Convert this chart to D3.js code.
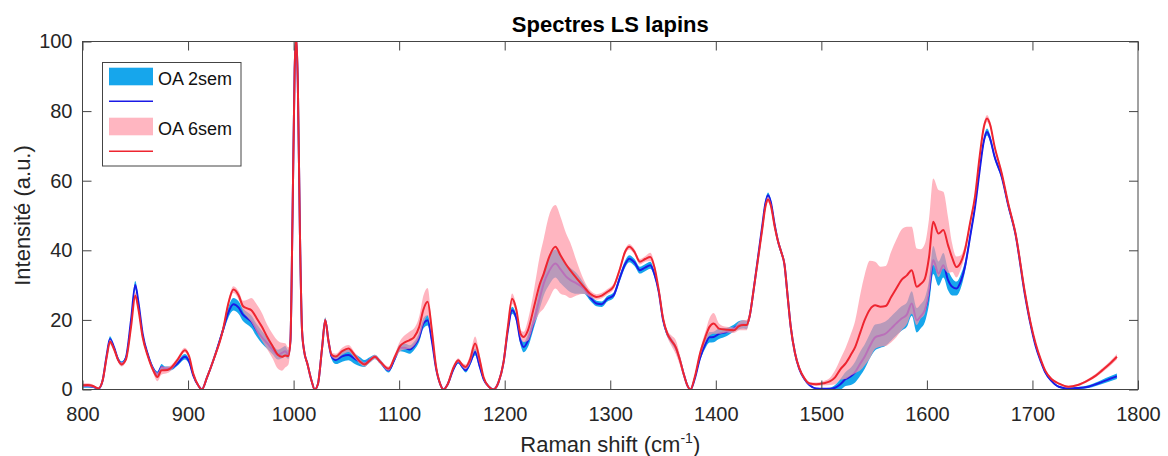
<!DOCTYPE html>
<html>
<head>
<meta charset="utf-8">
<script src="https://cdn.jsdelivr.net/npm/d3@7"></script>
<style>
  html, body { margin: 0; padding: 0; background: #fff; }
  svg { display: block; font-family: "Liberation Sans", Arial, sans-serif; }
</style>
</head>
<body>
<svg id="chart" width="1168" height="456"></svg>
<script>
// ---------------- DATA ----------------
const title = "Spectres LS lapins";
const seriesNames = ["OA 2sem", "OA 6sem"];
const xTicks = [800, 900, 1000, 1100, 1200, 1300, 1400, 1500, 1600, 1700, 1800];
const yTicks = [0, 20, 40, 60, 80, 100];

const wavenumber = [
800,805,810,815,819,823,826,830,834,837,
841,846,850,853,857,862,867,871,875,878,
883,890,897,901,905,910,913,918,924,933,
938,943,948,952,956,960,965,970,975,980,
985,989,992,995,997,999,1001,1002.5,1004,1006,
1008,1010,1013,1017,1020,1023,1027,1030,1033,1036,
1040,1046,1052,1058,1063,1067,1072,1077,1082,1090,
1096,1101,1105,1110,1114,1119,1123,1127,1131,1135,
1139,1142,1146,1151,1156,1160,1163,1167,1172,1176,
1180,1185,1189,1194,1199,1203,1207,1211,1215,1218,
1222,1228,1233,1237,1242,1248,1253,1258,1262,1268,
1275,1281,1287,1292,1297,1303,1309,1314,1318,1323,
1328,1333,1338,1342,1346,1350,1354,1358,1362,1366,
1370,1373,1376,1380,1385,1390,1394,1398,1403,1410,
1417,1422,1426,1429,1432,1436,1440,1444,1447,1449.5,
1452,1456,1459,1462,1465,1468,1471,1475,1479,1484,
1489,1495,1502,1508,1513,1518,1523,1528,1532,1537,
1541,1546,1551,1556,1561,1566,1571,1576,1581,1585.6,
1590.4,1594,1598,1602,1606,1611,1615.6,1620,1624,1628,
1632,1636,1641,1645.6,1650,1654,1657,1660,1664,1671,
1677,1684,1693,1698,1703,1708,1712,1718,1725,1734,
1743,1753,1760,1766,1773,1780];

// OA 2sem : mean spectrum
const meanOA2 = [
1.0,1.0,0.8,0.2,2.5,10,14.5,12,8.5,7.5,
9,20,30,25,16,10,6,4.5,6.5,6,
6,7.5,9.4,8,4,1,0,3.5,8.4,17,
22,24.5,23.5,21.5,20.5,19.5,17,15,13.3,11.5,
10,10.5,11,10,14,50,92,101,88,45,
17,11,7.5,2.5,0,1.5,12,20,14,9.5,
8.5,9.5,9.9,8.8,8,7.5,8.5,9.4,8,5.5,
9,12,12,11.5,12.5,15,19,19.9,14,6,
1.5,0,1.5,5.5,8,6.5,5.5,7.5,10.8,7,
3,0.8,0,2,8,17,22.8,20.5,14,12.2,
14,20,26,30.5,34,36.2,34.5,32.5,31.5,30.5,
29,26.5,24.7,24.5,26,27,32,36,37.6,36.5,
34.3,35,35.7,33,28,20,16,14,12,8.5,
4,1.2,0,3,9,13,15,15.1,16,16.5,
17.6,18.5,18.7,18.5,21,29,38,47,53.5,55.8,
54,47,42.5,39.5,36,27,18,10.5,6,3,
1.2,0.3,0.2,0.2,0.5,1.5,3,3.8,5,7.5,
9.4,12.5,15,15.5,16.1,17.5,19,20.4,21.5,24.7,
19.9,21,22.8,28,37.2,33.3,35.7,31.5,29.5,29,
31,35.2,44,52.5,63,71.5,74,72,67,61,
53,44.5,27,19,12.5,8,5,2.5,0.8,0.3,
0.4,0.8,1.5,2.2,3,3.8];

// OA 2sem : standard deviation (band half-width)
const sdOA2 = [
0.5,0.5,0.4,0.2,0.4,0.6,0.8,0.6,0.6,0.6,
0.6,1.0,1.2,1.0,0.8,0.6,0.6,0.7,0.8,0.6,
0.6,0.7,0.8,0.7,0.5,0.3,0.2,0.4,0.6,1.0,
1.5,1.8,1.8,1.8,1.8,1.8,1.8,1.8,1.6,1.4,
1.4,1.5,1.5,1.2,0.8,1,1,1,1,1,
0.6,0.5,0.5,0.4,0.2,0.3,0.6,0.7,0.6,0.8,
1.2,1.5,1.5,1.5,1.3,1.0,0.8,0.6,0.6,0.6,
0.8,1.0,1.2,1.2,1.2,1.3,1.5,1.5,1.0,0.6,
0.3,0.2,0.3,0.5,0.6,0.6,0.6,0.8,1.0,0.8,
0.5,0.3,0.2,0.3,0.6,1.0,1.0,1.0,1.2,1.5,
1.8,2,3,3.5,4,4,4,3.5,3.5,3,
1.5,1.0,0.8,0.8,0.8,0.8,1,1,1,1,
1,1,1,0.8,0.8,0.8,0.8,0.8,0.8,0.6,
0.5,0.3,0.2,0.4,0.8,1.2,1.5,1.5,1.5,1.2,
1.0,1.2,1.2,1.2,0.8,0.8,0.8,0.8,0.8,0.8,
0.8,0.8,0.8,0.8,0.8,0.8,0.8,0.6,0.5,0.4,
0.3,0.2,0.2,0.3,0.8,1.5,2,2.5,3,3.5,
3.5,3.5,3.7,3.5,3.5,3.5,3.5,3.5,3.5,3.5,
3.5,3.5,3.5,3.5,4,3.5,3.5,3,2.5,2,
2,1.5,1.2,1.0,1.0,1.0,1.0,1.0,0.8,0.8,
0.8,0.8,0.6,0.6,0.5,0.4,0.4,0.3,0.3,0.3,
0.3,0.4,0.5,0.6,0.7,0.8];

// OA 6sem : mean spectrum
const meanOA6 = [
1.2,1.3,1.0,0.3,2.5,9.5,13.7,11.5,8.3,7.2,
8.5,18,27,23,15,9.5,5.5,3.6,5.5,5.5,
6,8.5,11.3,9.5,4.5,1,0,3.5,8.4,17,
24.5,28.7,27,24,23.3,22.8,20.5,18,15.1,12.5,
10,9.4,9.8,9.6,14,50,92,102,88,45,
17,11,7.5,2.5,0,1.5,12,20,14,10,
9.5,11,11.8,9.8,8,7.2,8.3,9.4,8,6,
9.5,12.5,13.5,14.2,15,18,23,25.2,17,6.5,
1.5,0,1.5,6,8.4,7,6.5,8.5,13.2,9,
3.5,0.8,0,2,8,18,26.1,23,16,15.1,
17,24,30,33.3,38,41,38.5,36,34.3,32,
29.5,27.5,26.6,27,28,29.5,34.5,39.5,41,39.5,
36.7,37.5,38.1,35,28.5,20.5,16.1,14,12.2,8.5,
4,1.2,0,3.5,10.3,15,18,19,17.5,17.2,
17,18.2,18.5,18.5,21,29,37.5,46,52.5,54.6,
53,46.5,42.5,39.5,36,27,18,10.5,6.2,3.2,
1.7,1.5,1.8,2.3,3.5,5.8,7.5,10,12.2,16.5,
19.9,23,24.2,23.8,24,26.5,29,31.5,32.8,34.3,
29.5,30.3,31.8,38,48.2,44.8,45.8,41.5,37.8,35.2,
36.5,40,48,55.5,67,75.5,77.9,76,70,62,
53.5,44.8,27.6,19.5,13.2,8.5,5.5,3,1.7,0.8,
1.3,2.7,4,5.5,7.3,9.4];

// OA 6sem : standard deviation (band half-width)
const sdOA6 = [
0.5,0.5,0.4,0.2,0.4,0.6,0.7,0.6,0.6,0.6,
0.6,0.8,1.0,0.8,0.7,0.6,0.8,1.2,1.2,1.0,
0.8,0.7,0.7,0.6,0.5,0.3,0.2,0.4,0.6,0.8,
1.0,1.0,1.2,1.5,2.5,3.5,4,4,3.5,3.5,
4,4,3.5,2.5,1.0,1,1,1,1,1,
0.6,0.5,0.5,0.4,0.2,0.3,0.6,0.7,0.6,0.6,
0.8,1.0,1.0,0.8,0.7,0.6,0.6,0.6,0.6,0.6,
0.8,1.5,2,2.5,2.5,3,4,4,2,0.8,
0.3,0.2,0.3,0.5,0.6,0.6,0.7,1.2,2.0,1.5,
0.6,0.3,0.2,0.3,0.6,1.0,1.5,1.2,1.2,1.5,
3,5,8,10,12,12,11,9,8,5,
2,1.0,0.8,0.8,0.8,0.8,0.8,0.8,0.8,0.8,
0.8,0.8,1.2,1.0,0.8,0.8,1.0,1.5,2,1.5,
0.8,0.3,0.2,0.5,1.0,1.5,2.5,3,1.5,0.8,
0.8,1.2,1.5,1.5,1.0,0.8,0.8,0.8,0.8,0.8,
0.8,0.8,0.8,0.8,0.8,0.8,0.8,0.6,0.5,0.4,
0.4,0.5,0.6,1.0,2,3,4.5,6,7.5,11,
13,14,12.5,11.5,11.5,13,14,14.5,14,12.5,
11,10,10,11,12.4,12.5,11,8,4,3,
2,1.5,1.0,1.0,1.0,1.0,1.0,1.0,0.8,0.8,
0.8,0.8,0.6,0.6,0.5,0.4,0.4,0.3,0.3,0.3,
0.3,0.4,0.5,0.6,0.7,0.8];

// ---------------- STYLE ----------------
const blueFill = "#16a6ec", blueLine = "#1a1ae6";
const pinkFill = "#ff96a5", pinkFillOpacity = 0.7, pinkLegend = "#ffb6c1";
const redLine = "#ee2530";
const axisColor = "#444", textColor = "#262626";

// ---------------- CHART ----------------
const svg = d3.select("#chart");
const x = d3.scaleLinear().domain([800, 1800]).range([82.5, 1138]);
const y = d3.scaleLinear().domain([0, 100]).range([389.5, 41.5]);

const defs = svg.append("defs");
defs.append("clipPath").attr("id", "plotClip")
  .append("rect")
  .attr("x", x(800)).attr("y", y(100))
  .attr("width", x(1800) - x(800)).attr("height", y(0) - y(100));

const idx = d3.range(wavenumber.length);
const curve = d3.curveMonotoneX;

function band(mean, sd) {
  return d3.area().curve(curve)
    .x(i => x(wavenumber[i]))
    .y0(i => y(Math.max(mean[i] - sd[i], 0)))
    .y1(i => y(mean[i] + sd[i]));
}
function line(mean) {
  return d3.line().curve(curve)
    .x(i => x(wavenumber[i]))
    .y(i => y(mean[i]));
}

const plot = svg.append("g").attr("clip-path", "url(#plotClip)");
plot.append("path").datum(idx).attr("d", band(meanOA2, sdOA2)).attr("fill", blueFill);
plot.append("path").datum(idx).attr("d", line(meanOA2)).attr("fill", "none")
  .attr("stroke", blueLine).attr("stroke-width", 2);
plot.append("path").datum(idx).attr("d", band(meanOA6, sdOA6)).attr("fill", pinkFill)
  .attr("fill-opacity", pinkFillOpacity);
plot.append("path").datum(idx).attr("d", line(meanOA6)).attr("fill", "none")
  .attr("stroke", redLine).attr("stroke-width", 2);

// Axes (MATLAB style, ticks inward on all four sides)
function styleAxis(g) {
  g.select(".domain").remove();
  g.selectAll(".tick line").attr("stroke", axisColor).attr("stroke-width", 1);
  g.selectAll(".tick text").attr("fill", textColor).style("font-size", "20px")
    .style("font-family", "'Liberation Sans', Arial, sans-serif");
}
svg.append("g").attr("transform", `translate(0,${y(0)})`)
  .call(d3.axisBottom(x).tickValues(xTicks).tickSize(-9).tickPadding(17).tickFormat(d3.format("d")))
  .call(styleAxis);
svg.append("g").attr("transform", `translate(0,${y(100)})`)
  .call(d3.axisTop(x).tickValues(xTicks).tickSize(-9).tickFormat(""))
  .call(styleAxis);
svg.append("g").attr("transform", `translate(${x(800)},0)`)
  .call(d3.axisLeft(y).tickValues(yTicks).tickSize(-9).tickPadding(10).tickFormat(d3.format("d")))
  .call(styleAxis);
svg.append("g").attr("transform", `translate(${x(1800)},0)`)
  .call(d3.axisRight(y).tickValues(yTicks).tickSize(-9).tickFormat(""))
  .call(styleAxis);

svg.append("rect")
  .attr("x", x(800)).attr("y", y(100))
  .attr("width", x(1800) - x(800)).attr("height", y(0) - y(100))
  .attr("fill", "none").attr("stroke", axisColor).attr("stroke-width", 1);

// Title
svg.append("text").attr("x", (x(800) + x(1800)) / 2).attr("y", 31.5)
  .attr("text-anchor", "middle").attr("font-weight", "bold").attr("font-size", 22)
  .attr("fill", "#000").text(title);

// X label with superscript
const xl = svg.append("text").attr("x", (x(800) + x(1800)) / 2).attr("y", 452)
  .attr("text-anchor", "middle").attr("font-size", 22).attr("fill", textColor);
xl.append("tspan").text("Raman shift (cm");
xl.append("tspan").attr("font-size", 14).attr("dy", -9).text("-1");
xl.append("tspan").attr("dy", 9).text(")");

// Y label
svg.append("text").attr("transform", `translate(30,${(y(0) + y(100)) / 2}) rotate(-90)`)
  .attr("text-anchor", "middle").attr("font-size", 22).attr("fill", textColor)
  .text("Intensité (a.u.)");

// Legend
const lg = svg.append("g");
lg.append("rect").attr("x", 102.5).attr("y", 62.5).attr("width", 138.5).attr("height", 103.5)
  .attr("fill", "#fff").attr("stroke", axisColor).attr("stroke-width", 1);
const legendItems = [
  { name: seriesNames[0], fill: blueFill, stroke: blueLine, y0: 67.7 },
  { name: seriesNames[1], fill: pinkLegend, stroke: redLine, y0: 117.7 }
];
legendItems.forEach(it => {
  lg.append("rect").attr("x", 109).attr("y", it.y0).attr("width", 44).attr("height", 17.6)
    .attr("fill", it.fill);
  lg.append("line").attr("x1", 109).attr("x2", 153)
    .attr("y1", it.y0 + 33.6).attr("y2", it.y0 + 33.6)
    .attr("stroke", it.stroke).attr("stroke-width", 1.5);
  lg.append("text").attr("x", 158).attr("y", it.y0 + 17.5)
    .attr("font-size", 18).attr("fill", "#111").text(it.name);
});
</script>
</body>
</html>
